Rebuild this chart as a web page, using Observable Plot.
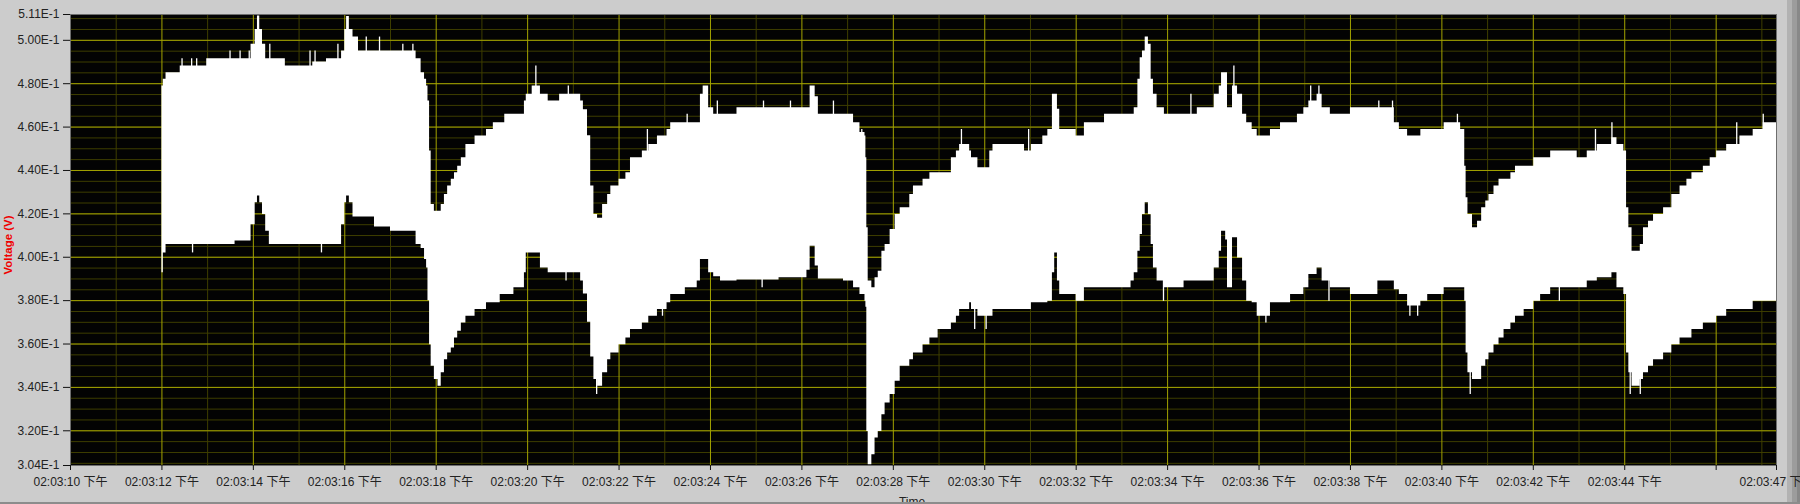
<!DOCTYPE html>
<html>
<head>
<meta charset="utf-8">
<script src="https://cdn.jsdelivr.net/npm/d3@7"></script>
<script src="https://cdn.jsdelivr.net/npm/@observablehq/plot@0.6"></script>
<style>
  html, body { margin: 0; padding: 0; background: #cccccc; }
  #wrap { position: relative; width: 1800px; height: 504px; background: #cccccc; overflow: hidden;
          font-family: "Liberation Sans", "Noto Sans CJK SC", sans-serif; }
  #chart { position: absolute; left: 0; top: 0; }
  #chart svg { overflow: visible; }
  .ytitle { position: absolute; left: 7.5px; top: 245px; transform: translate(-50%, -50%) rotate(-90deg);
            color: #f00000; font-weight: bold; font-size: 11.5px; white-space: nowrap; line-height: 12px; }
  .xtitle { position: absolute; left: 912px; top: 496px; transform: translateX(-50%);
            color: #222; font-size: 12px; line-height: 12px; white-space: nowrap; }
  .bar { position: absolute; }
</style>
</head>
<body>
<div id="wrap">
  <div class="bar" style="left:1787px;top:0;width:5px;height:504px;background:#b2b2b2"></div>
  <div class="bar" style="left:1792px;top:0;width:5px;height:504px;background:#9c9c9c"></div>
  <div class="bar" style="left:1797px;top:0;width:3px;height:504px;background:#888888"></div>
  <div class="xtitle" id="xtitle"></div>
  <div class="bar" style="left:0;top:502px;width:1800px;height:2px;background:#8c8c8c"></div>
  <div id="chart"></div>
  <div class="ytitle" id="ytitle"></div>
</div>
<script>
// ---- data (time in seconds after 02:03:00 PM) ----
const tSec = [
  12.00, 12.03, 12.09, 12.40, 12.98, 13.60, 13.95, 14.04, 14.09, 14.14, 14.20, 14.27, 14.35, 14.70, 15.30, 15.60,
  15.93, 16.00, 16.04, 16.10, 16.18, 16.30, 16.65, 17.00, 17.56, 17.67, 17.745, 17.79, 17.82, 17.855, 17.89, 17.96,
  18.04, 18.11, 18.18, 18.25, 18.33, 18.40, 18.47, 18.55, 18.65, 18.85, 19.10, 19.25, 19.40, 19.50, 19.70, 19.93,
  19.97, 20.10, 20.28, 20.45, 20.70, 21.16, 21.22, 21.31, 21.38, 21.45, 21.53, 21.64, 21.75, 21.82, 22.00, 22.15,
  22.25, 22.51, 22.65, 22.84, 23.05, 23.13, 23.45, 23.71, 23.78, 23.84, 23.96, 24.07, 24.22, 24.58, 25.50, 26.11,
  26.18, 26.29, 26.36, 26.91, 27.13, 27.27, 27.38, 27.40, 27.42, 27.45, 27.53, 27.60, 27.67, 27.75, 27.82, 27.93,
  28.04, 28.15, 28.36, 28.44, 28.65, 28.80, 28.98, 29.27, 29.38, 29.45, 29.67, 29.71, 29.85, 30.11, 30.18, 30.87,
  31.02, 31.27, 31.38, 31.48, 31.53, 31.59, 31.64, 32.00, 32.18, 32.62, 33.20, 33.27, 33.35, 33.40, 33.45, 33.51,
  33.58, 33.64, 33.69, 33.77, 33.93, 34.36, 34.65, 35.02, 35.13, 35.18, 35.27, 35.31, 35.42, 35.53, 35.64, 35.73,
  35.85, 35.96, 36.25, 36.47, 36.69, 36.84, 36.98, 37.09, 37.27, 37.38, 37.56, 38.00, 38.60, 38.96, 39.07, 39.25,
  39.54, 39.69, 40.05, 40.41, 40.50, 40.53, 40.57, 40.67, 40.78, 40.87, 40.96, 41.03, 41.14, 41.25, 41.36, 41.51,
  41.61, 41.80, 42.01, 42.16, 42.38, 42.96, 43.18, 43.40, 43.72, 43.83, 43.98, 44.04, 44.09, 44.16, 44.34, 44.41,
  44.52, 44.63, 44.85, 45.03, 45.21, 45.36, 45.47, 45.72, 45.87, 46.01, 46.23, 46.52, 46.81, 47.03, 47.32
];
const upperV = [
  0.4789, 0.4820, 0.4851, 0.4882, 0.4915, 0.4915, 0.4982, 0.5050, 0.5112, 0.5050, 0.4982, 0.4915, 0.4915, 0.4882, 0.4900, 0.4915,
  0.4951, 0.5050, 0.5110, 0.5050, 0.5015, 0.4951, 0.4951, 0.4951, 0.4915, 0.4851, 0.4820, 0.4789, 0.4720, 0.4490, 0.4243, 0.4212,
  0.4212, 0.4243, 0.4289, 0.4328, 0.4359, 0.4389, 0.4420, 0.4459, 0.4520, 0.4559, 0.4589, 0.4620, 0.4620, 0.4659, 0.4659, 0.4720,
  0.4751, 0.4789, 0.4751, 0.4720, 0.4751, 0.4720, 0.4680, 0.4560, 0.4328, 0.4197, 0.4180, 0.4243, 0.4289, 0.4328, 0.4359, 0.4389,
  0.4459, 0.4490, 0.4520, 0.4559, 0.4589, 0.4620, 0.4620, 0.4620, 0.4751, 0.4789, 0.4689, 0.4659, 0.4659, 0.4689, 0.4689, 0.4689,
  0.4789, 0.4740, 0.4659, 0.4659, 0.4620, 0.4575, 0.4559, 0.4459, 0.4136, 0.3890, 0.3859, 0.3905, 0.3936, 0.4028, 0.4059, 0.4128,
  0.4197, 0.4228, 0.4289, 0.4328, 0.4359, 0.4389, 0.4389, 0.4459, 0.4490, 0.4520, 0.4490, 0.4459, 0.4412, 0.4490, 0.4520, 0.4490,
  0.4520, 0.4559, 0.4589, 0.4751, 0.4751, 0.4682, 0.4589, 0.4559, 0.4620, 0.4659, 0.4659, 0.4689, 0.4820, 0.4920, 0.4951, 0.5015,
  0.4982, 0.4820, 0.4751, 0.4689, 0.4659, 0.4659, 0.4689, 0.4751, 0.4789, 0.4851, 0.4851, 0.4689, 0.4789, 0.4751, 0.4659, 0.4620,
  0.4589, 0.4559, 0.4589, 0.4620, 0.4620, 0.4659, 0.4689, 0.4720, 0.4751, 0.4689, 0.4659, 0.4689, 0.4689, 0.4620, 0.4589, 0.4559,
  0.4589, 0.4589, 0.4620, 0.4589, 0.4420, 0.4274, 0.4197, 0.4136, 0.4166, 0.4228, 0.4259, 0.4289, 0.4328, 0.4359, 0.4359, 0.4389,
  0.4420, 0.4420, 0.4459, 0.4459, 0.4490, 0.4459, 0.4490, 0.4520, 0.4551, 0.4520, 0.4490, 0.4228, 0.4136, 0.4028, 0.4059, 0.4136,
  0.4166, 0.4197, 0.4228, 0.4289, 0.4328, 0.4359, 0.4389, 0.4420, 0.4459, 0.4490, 0.4520, 0.4559, 0.4589, 0.4620, 0.4620
];
const lowerV = [
  0.3928, 0.4020, 0.4059, 0.4059, 0.4059, 0.4075, 0.4150, 0.4251, 0.4282, 0.4251, 0.4197, 0.4120, 0.4059, 0.4059, 0.4059, 0.4059,
  0.4150, 0.4251, 0.4282, 0.4251, 0.4185, 0.4185, 0.4140, 0.4120, 0.4059, 0.4040, 0.3990, 0.3951, 0.3800, 0.3597, 0.3497, 0.3436,
  0.3405, 0.3467, 0.3528, 0.3559, 0.3582, 0.3628, 0.3659, 0.3697, 0.3728, 0.3759, 0.3790, 0.3790, 0.3828, 0.3828, 0.3859, 0.3928,
  0.4020, 0.4020, 0.3951, 0.3928, 0.3928, 0.3890, 0.3830, 0.3700, 0.3540, 0.3436, 0.3405, 0.3467, 0.3528, 0.3559, 0.3597, 0.3628,
  0.3667, 0.3697, 0.3728, 0.3759, 0.3790, 0.3828, 0.3859, 0.3890, 0.3990, 0.3990, 0.3928, 0.3910, 0.3890, 0.3895, 0.3905, 0.3940,
  0.4051, 0.3960, 0.3900, 0.3890, 0.3859, 0.3828, 0.3797, 0.3770, 0.3197, 0.3044, 0.3090, 0.3167, 0.3197, 0.3274, 0.3328, 0.3367,
  0.3428, 0.3497, 0.3528, 0.3559, 0.3597, 0.3628, 0.3667, 0.3697, 0.3728, 0.3759, 0.3790, 0.3759, 0.3728, 0.3728, 0.3759, 0.3759,
  0.3790, 0.3790, 0.3797, 0.3928, 0.4020, 0.3890, 0.3828, 0.3797, 0.3859, 0.3859, 0.3890, 0.3928, 0.4028, 0.4105, 0.4197, 0.4251,
  0.4197, 0.4059, 0.3951, 0.3890, 0.3859, 0.3890, 0.3890, 0.3951, 0.4028, 0.4120, 0.4080, 0.3859, 0.4090, 0.3997, 0.3890, 0.3797,
  0.3790, 0.3728, 0.3790, 0.3790, 0.3828, 0.3828, 0.3859, 0.3920, 0.3951, 0.3890, 0.3859, 0.3828, 0.3890, 0.3850, 0.3828, 0.3775,
  0.3797, 0.3828, 0.3859, 0.3859, 0.3797, 0.3559, 0.3467, 0.3436, 0.3436, 0.3497, 0.3528, 0.3559, 0.3597, 0.3628, 0.3667, 0.3697,
  0.3728, 0.3759, 0.3797, 0.3828, 0.3859, 0.3859, 0.3890, 0.3905, 0.3928, 0.3859, 0.3828, 0.3559, 0.3467, 0.3405, 0.3436, 0.3467,
  0.3497, 0.3528, 0.3559, 0.3597, 0.3628, 0.3628, 0.3667, 0.3697, 0.3697, 0.3728, 0.3759, 0.3759, 0.3797, 0.3797, 0.3797
];
// narrow noise needles above the upper envelope and below the lower envelope
const upSpikeT = [12.44, 12.65, 12.76, 13.49, 13.71, 13.91, 14.36, 15.24, 15.35, 15.85, 16.47, 16.76, 17.27, 17.49, 20.18, 20.89,
  22.62, 23.49, 24.15, 25.16, 25.75, 26.69, 27.31, 29.49, 30.96, 34.51, 35.45, 37.13, 37.31, 38.62, 38.92, 40.34, 43.36, 43.72, 46.45, 47.03];
const upSpikeV = [0.4915, 0.4915, 0.4915, 0.4951, 0.4951, 0.4951, 0.4982, 0.4951, 0.4951, 0.4982, 0.5015, 0.5015, 0.4982, 0.4982, 0.4882, 0.4789,
  0.4589, 0.4659, 0.4720, 0.4720, 0.4720, 0.4720, 0.4589, 0.4589, 0.4589, 0.4751, 0.4882, 0.4789, 0.4789, 0.4720, 0.4720, 0.4659, 0.4589, 0.4620, 0.4620, 0.4659];
const downSpikeT = [12.67, 15.49, 20.84, 21.51, 22.95, 25.13, 29.78, 30.03, 33.91, 36.15, 37.53, 39.30, 39.47, 40.62, 42.57, 44.12, 44.34];
const downSpikeV = [0.4020, 0.4020, 0.3890, 0.3367, 0.3728, 0.3859, 0.3667, 0.3667, 0.3797, 0.3697, 0.3797, 0.3728, 0.3728, 0.3367, 0.3797, 0.3367, 0.3367];

// ---- axes ----
const xDomain = [10, 47.32];
const yDomain = [0.304, 0.5119];
const xTickValues = [10, 12, 14, 16, 18, 20, 22, 24, 26, 28, 30, 32, 34, 36, 38, 40, 42, 44, 46, 47.32];
const xTickLabels = ["02:03:10 下午", "02:03:12 下午", "02:03:14 下午", "02:03:16 下午", "02:03:18 下午", "02:03:20 下午",
  "02:03:22 下午", "02:03:24 下午", "02:03:26 下午", "02:03:28 下午", "02:03:30 下午", "02:03:32 下午", "02:03:34 下午",
  "02:03:36 下午", "02:03:38 下午", "02:03:40 下午", "02:03:42 下午", "02:03:44 下午", "", "02:03:47 下午"];
const yTickValues = [0.304, 0.32, 0.34, 0.36, 0.38, 0.40, 0.42, 0.44, 0.46, 0.48, 0.50, 0.5119];
const yTickLabels = ["3.04E-1", "3.20E-1", "3.40E-1", "3.60E-1", "3.80E-1", "4.00E-1", "4.20E-1", "4.40E-1", "4.60E-1", "4.80E-1", "5.00E-1", "5.11E-1"];
const yTitle = "Voltage (V)";
const xTitle = "Time";

const xMajorGrid = xTickValues.slice(1, -1);
const xMinorGrid = d3.range(11, 48, 2);
const yMajorGrid = yTickValues.slice(1, -1);
const yMinorGrid = d3.range(61, 103).map(k => k * 0.005);

const data = tSec.map((t, i) => ({t, hi: upperV[i], lo: lowerV[i]}));
const ups = upSpikeT.map((t, i) => ({t, v: upSpikeV[i]}));
const downs = downSpikeT.map((t, i) => ({t, v: downSpikeV[i]}));

const MAJOR = "#a3a300", MINOR = "#3e3e00";

const chart = Plot.plot({
  width: 1800, height: 504,
  marginLeft: 70, marginRight: 24, marginTop: 14, marginBottom: 39,
  x: {domain: xDomain, label: null},
  y: {domain: yDomain, label: null},
  style: {background: "transparent", color: "#222", fontFamily: "'Liberation Sans', 'Noto Sans CJK SC', sans-serif", fontSize: "12px"},
  marks: [
    Plot.frame({fill: "#030303", stroke: null}),
    Plot.gridX(xMinorGrid, {stroke: MINOR, strokeOpacity: 1}),
    Plot.gridY(yMinorGrid, {stroke: MINOR, strokeOpacity: 1}),
    Plot.gridX(xMajorGrid, {stroke: MAJOR, strokeOpacity: 1}),
    Plot.gridY(yMajorGrid, {stroke: MAJOR, strokeOpacity: 1}),
    Plot.areaY(data, {x: "t", y1: "lo", y2: "hi", fill: "white", curve: "step-after"}),
    Plot.ruleX(ups, {x: "t", y1: "v", y2: d => d.v - 0.012, stroke: "white", strokeWidth: 1.3}),
    Plot.ruleX(downs, {x: "t", y1: "v", y2: d => d.v + 0.012, stroke: "white", strokeWidth: 1.3}),
    Plot.frame({stroke: "#6e6e6e"}),
    Plot.axisX(xTickValues, {tickSize: 5, tickPadding: 7, label: null, stroke: "#111",
      tickFormat: d => xTickLabels[xTickValues.indexOf(d)]}),
    Plot.axisY(yTickValues, {tickSize: 7, tickPadding: 4, label: null, stroke: "#111",
      tickFormat: d => yTickLabels[yTickValues.indexOf(d)]})
  ]
});
document.getElementById("chart").appendChild(chart);
document.getElementById("ytitle").textContent = yTitle;
document.getElementById("xtitle").textContent = xTitle;
</script>
</body>
</html>
